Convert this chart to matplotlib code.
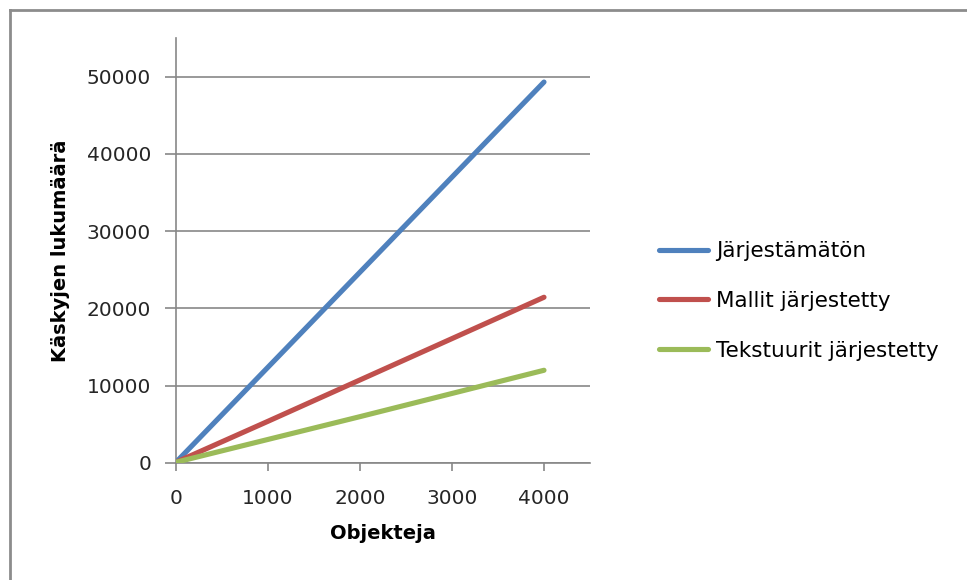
import matplotlib
matplotlib.use("Agg")
import matplotlib.pyplot as plt
from matplotlib.lines import Line2D

# Data: number of commands vs. number of objects
objects = [0, 1000, 2000, 3000, 4000]
unsorted = [100, 12400, 24700, 37000, 49300]
models_sorted = [100, 5400, 10750, 16100, 21450]
textures_sorted = [100, 3050, 6000, 9000, 12000]

series_names = ["Järjestämätön", "Mallit järjestetty", "Tekstuurit järjestetty"]
series_colors = ["#4F81BD", "#C0504D", "#9BBB59"]

x_ticks = [0, 1000, 2000, 3000, 4000]
y_ticks = [0, 10000, 20000, 30000, 40000, 50000]

plt.rcParams["font.family"] = ["DejaVu Sans"]

W, H = 967, 580
fig = plt.figure(figsize=(W / 100, H / 100), dpi=100)
fig.patch.set_facecolor("white")

# chart frame (top and left edges)
fig.add_artist(Line2D([10 / W, 10 / W], [0, 1 - 10 / H], transform=fig.transFigure,
                      color="#8c8c8c", lw=2.0))
fig.add_artist(Line2D([10 / W, 1], [1 - 10 / H, 1 - 10 / H], transform=fig.transFigure,
                      color="#8c8c8c", lw=2.0))

left, right, top, bottom = 176, 590, 38, 463
ax = fig.add_axes([left / W, 1 - bottom / H, (right - left) / W, (bottom - top) / H])

for ys, name, col in zip([unsorted, models_sorted, textures_sorted], series_names, series_colors):
    ax.plot(objects, ys, color=col, lw=3.7, solid_capstyle="round", label=name, zorder=3)

ax.set_xlim(0, 4500)
ax.set_ylim(0, 55000)
ax.set_xticks(x_ticks)
ax.set_yticks(y_ticks)
ax.set_xticklabels([str(v) for v in x_ticks])
ax.set_yticklabels([str(v) for v in y_ticks])

gray = "#878787"
ax.yaxis.grid(True, color=gray, lw=1.2, zorder=1)
ax.set_axisbelow(True)
for s in ["top", "right"]:
    ax.spines[s].set_visible(False)
for s in ["left", "bottom"]:
    ax.spines[s].set_color(gray)
    ax.spines[s].set_linewidth(1.2)

tick_fs = 14.5
ax.tick_params(axis="y", direction="out", length=8, width=1.2, color=gray,
               labelsize=tick_fs, labelcolor="#262626", pad=10)
ax.tick_params(axis="x", direction="out", length=6, width=1.2, color=gray,
               labelsize=tick_fs, labelcolor="#262626", pad=13)

ax.set_xlabel("Objekteja", fontsize=14, fontweight="bold", labelpad=11)
ax.set_ylabel("Käskyjen lukumäärä", fontsize=14, fontweight="bold", labelpad=12)

leg = fig.legend(loc="center left", bbox_to_anchor=(648 / W, 1 - 301 / H),
                 frameon=False, fontsize=15.5, handlelength=2.3, handletextpad=0.35,
                 labelspacing=1.38, borderpad=0)

fig.savefig("out.png", dpi=100, facecolor="white")
